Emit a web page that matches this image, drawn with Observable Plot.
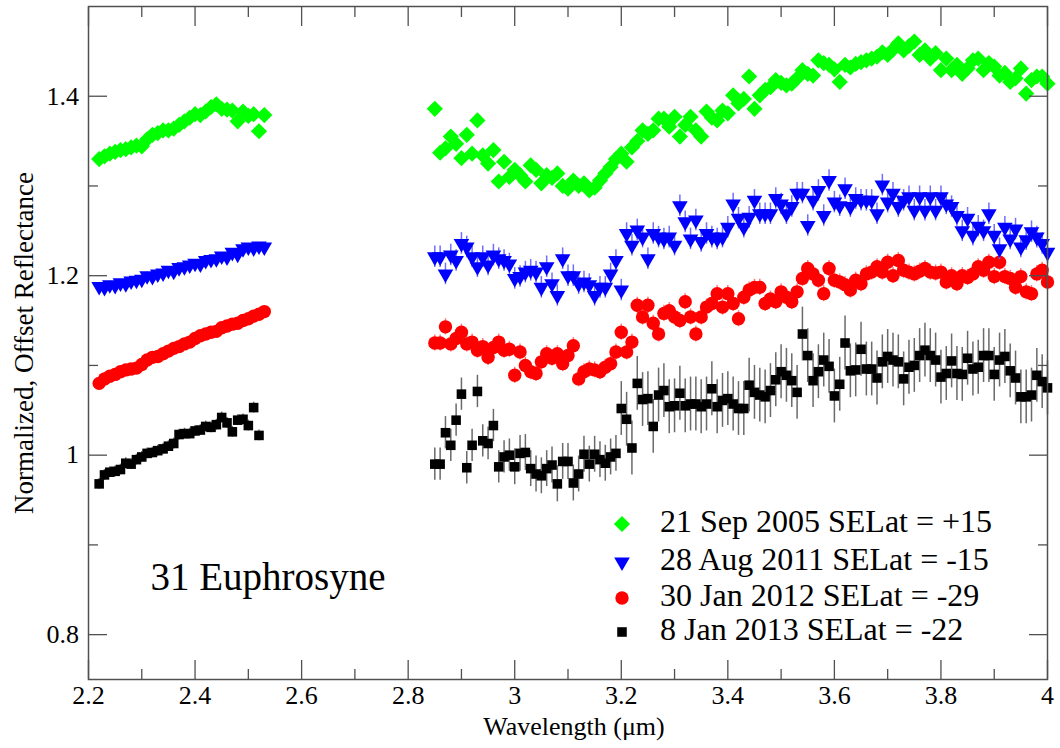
<!DOCTYPE html>
<html>
<head>
<meta charset="utf-8">
<script src="https://cdn.jsdelivr.net/npm/d3@7"></script>
<script src="https://cdn.jsdelivr.net/npm/@observablehq/plot@0.6"></script>
<style>
  body { margin: 0; background: #fff; }
  #wrap { position: relative; width: 1060px; height: 748px; }
  #legend { position: absolute; left: 0; top: 0; pointer-events: none; }
</style>
</head>
<body>
<div id="wrap"></div>
<script>
// ---------------- DATA ----------------
const seriesNames = ["21 Sep 2005 SELat = +15", "28 Aug 2011 SELat = -15", "30 Jan 2012 SELat = -29", "8 Jan 2013 SELat = -22"];

const waveLeft = [2.22,2.23,2.24,2.25,2.26,2.27,2.28,2.29,2.30,2.31,
                  2.32,2.33,2.34,2.35,2.36,2.37,2.38,2.39,2.40,2.41,
                  2.42,2.43,2.44,2.45,2.46,2.47,2.48,2.49,2.50,2.51,
                  2.52,2.53];

const waveRight = [2.85,2.86,2.87,2.88,2.89,2.90,2.91,2.92,2.93,2.94,
                   2.95,2.96,2.97,2.98,2.99,3.00,3.01,3.02,3.03,3.04,
                   3.05,3.06,3.07,3.08,3.09,3.10,3.11,3.12,3.13,3.14,
                   3.15,3.16,3.17,3.18,3.19,3.20,3.21,3.22,3.23,3.24,
                   3.25,3.26,3.27,3.28,3.29,3.30,3.31,3.32,3.33,3.34,
                   3.35,3.36,3.37,3.38,3.39,3.40,3.41,3.42,3.43,3.44,
                   3.45,3.46,3.47,3.48,3.49,3.50,3.51,3.52,3.53,3.54,
                   3.55,3.56,3.57,3.58,3.59,3.60,3.61,3.62,3.63,3.64,
                   3.65,3.66,3.67,3.68,3.69,3.70,3.71,3.72,3.73,3.74,
                   3.75,3.76,3.77,3.78,3.79,3.80,3.81,3.82,3.83,3.84,
                   3.85,3.86,3.87,3.88,3.89,3.90,3.91,3.92,3.93,3.94,
                   3.95,3.96,3.97,3.98,3.99,4.00];

// 21 Sep 2005 (green diamonds)
const sep2005Left = [1.330,1.333,1.336,1.338,1.340,1.341,1.343,1.345,1.344,1.352,
                     1.357,1.359,1.362,1.362,1.364,1.368,1.372,1.376,1.380,1.379,
                     1.383,1.388,1.391,1.386,1.385,1.384,1.372,1.383,1.378,1.380,
                     1.361,1.379];
const sep2005Right = [1.386,1.337,1.342,1.355,1.347,1.331,1.357,1.336,1.373,1.334,
                      1.325,1.340,1.305,1.327,1.310,1.318,1.312,1.305,1.323,1.318,
                      1.303,1.312,1.309,1.314,1.300,1.297,1.306,1.300,1.303,1.295,
                      1.298,1.306,1.314,1.321,1.330,1.336,1.327,1.343,1.350,1.362,
                      1.358,1.362,1.375,1.375,1.366,1.377,1.355,1.368,1.377,1.362,
                      1.355,1.383,1.376,1.373,1.384,1.381,1.401,1.392,1.397,1.422,
                      1.386,1.401,1.407,1.410,1.418,1.415,1.412,1.414,1.420,1.429,
                      1.425,1.423,1.440,1.437,1.435,1.430,1.416,1.435,1.432,1.436,
                      1.438,1.440,1.442,1.444,1.449,1.446,1.452,1.459,1.451,1.456,
                      1.461,1.446,1.451,1.442,1.448,1.429,1.442,1.429,1.435,1.425,
                      1.431,1.440,1.442,1.429,1.437,1.433,1.423,1.426,1.416,1.420,
                      1.431,1.403,1.418,1.422,1.422,1.414];

// 28 Aug 2011 (blue down triangles)
const aug2011Left = [1.188,1.187,1.190,1.189,1.192,1.191,1.194,1.195,1.196,1.200,
                     1.199,1.202,1.203,1.206,1.205,1.209,1.210,1.212,1.214,1.213,
                     1.217,1.218,1.219,1.222,1.221,1.226,1.224,1.230,1.232,1.231,
                     1.233,1.232];
const aug2011Right = [1.221,1.221,1.202,1.223,1.217,1.236,1.232,1.221,1.210,1.221,
                      1.212,1.223,1.219,1.217,1.213,1.197,1.199,1.204,1.206,1.204,
                      1.187,1.210,1.191,1.178,1.219,1.200,1.200,1.191,1.193,1.190,
                      1.178,1.187,1.187,1.202,1.217,1.184,1.247,1.234,1.251,1.243,
                      1.219,1.247,1.243,1.241,1.243,1.234,1.278,1.260,1.241,1.262,
                      1.238,1.247,1.243,1.241,1.243,1.254,1.280,1.264,1.254,1.265,
                      1.284,1.269,1.269,1.269,1.286,1.280,1.269,1.277,1.292,1.292,
                      1.256,1.284,1.295,1.267,1.306,1.282,1.278,1.297,1.277,1.286,
                      1.284,1.284,1.284,1.269,1.301,1.282,1.292,1.277,1.284,1.288,
                      1.273,1.288,1.273,1.288,1.273,1.288,1.280,1.277,1.267,1.250,
                      1.264,1.245,1.255,1.250,1.269,1.245,1.230,1.254,1.241,1.252,
                      1.232,1.240,1.249,1.243,1.236,1.226];

// 30 Jan 2012 (red circles)
const jan2012Left = [1.080,1.085,1.088,1.090,1.093,1.095,1.096,1.097,1.101,1.106,
                     1.109,1.110,1.113,1.116,1.119,1.121,1.124,1.126,1.130,1.133,
                     1.135,1.137,1.138,1.142,1.144,1.146,1.147,1.150,1.152,1.155,
                     1.157,1.160];
const jan2012Right = [1.125,1.125,1.143,1.124,1.130,1.137,1.124,1.126,1.117,1.121,
                      1.109,1.120,1.126,1.117,1.118,1.089,1.115,1.100,1.093,1.091,
                      1.104,1.113,1.108,1.113,1.102,1.111,1.122,1.085,1.093,1.096,
                      1.095,1.093,1.098,1.102,1.115,1.137,1.115,1.126,1.167,1.154,
                      1.167,1.147,1.135,1.158,1.161,1.154,1.150,1.171,1.154,1.135,
                      1.154,1.165,1.169,1.180,1.165,1.180,1.169,1.152,1.176,1.184,
                      1.187,1.187,1.169,1.174,1.171,1.182,1.176,1.171,1.182,1.197,
                      1.208,1.202,1.195,1.180,1.208,1.195,1.193,1.190,1.184,1.195,
                      1.191,1.202,1.204,1.210,1.204,1.215,1.200,1.217,1.206,1.204,
                      1.202,1.205,1.208,1.204,1.203,1.204,1.193,1.200,1.191,1.200,
                      1.198,1.202,1.210,1.206,1.215,1.199,1.215,1.199,1.197,1.187,
                      1.199,1.182,1.180,1.202,1.206,1.193];

// 8 Jan 2013 (black squares)
const jan2013Left = [0.968,0.978,0.981,0.982,0.984,0.991,0.990,0.995,0.998,1.002,
                     1.003,1.005,1.007,1.010,1.013,1.023,1.024,1.024,1.027,1.028,
                     1.032,1.031,1.034,1.042,1.036,1.026,1.039,1.040,1.033,1.053,
                     1.022];
const jan2013Right = [0.990,0.990,1.025,1.011,1.039,1.068,0.986,1.011,1.071,1.016,
                      1.013,1.033,0.987,0.998,1.000,0.987,1.002,1.003,0.985,0.979,
                      0.977,0.985,0.989,0.968,0.993,0.993,0.969,0.979,1.001,0.990,
                      1.001,0.995,0.991,0.998,1.002,1.052,1.040,1.008,1.080,1.062,
                      1.063,1.032,1.067,1.072,1.054,1.055,1.069,1.055,1.057,1.057,
                      1.054,1.057,1.074,1.054,1.061,1.063,1.057,1.052,1.052,1.078,
                      1.070,1.067,1.065,1.072,1.084,1.093,1.089,1.083,1.070,1.135,
                      1.111,1.083,1.093,1.106,1.099,1.066,1.079,1.125,1.094,1.095,
                      1.118,1.096,1.096,1.086,1.104,1.110,1.106,1.104,1.085,1.098,
                      1.100,1.111,1.117,1.111,1.106,1.087,1.091,1.105,1.091,1.090,
                      1.108,1.096,1.098,1.111,1.111,1.090,1.106,1.110,1.094,1.086,
                      1.065,1.065,1.067,1.089,1.082,1.075];

// uncertainties (half-length of error bars)
const errLeft  = [0.002, 0.004, 0.004, 0.006];
const errRight = [0.003, 0.012, 0.009, null];
const jan2013ErrRight = [0.018,0.018,0.018,0.018,0.018,0.018,0.018,0.018,0.018,0.018,
                         0.018,0.018,0.018,0.018,0.018,0.020,0.020,0.020,0.020,0.020,
                         0.020,0.020,0.020,0.020,0.020,0.020,0.020,0.020,0.020,0.020,
                         0.020,0.020,0.020,0.020,0.020,0.030,0.030,0.030,0.030,0.030,
                         0.030,0.030,0.030,0.030,0.030,0.030,0.030,0.030,0.030,0.030,
                         0.030,0.030,0.030,0.030,0.030,0.030,0.030,0.030,0.030,0.030,
                         0.030,0.030,0.030,0.030,0.030,0.030,0.030,0.030,0.030,0.030,
                         0.030,0.030,0.030,0.030,0.030,0.030,0.030,0.030,0.030,0.030,
                         0.030,0.030,0.030,0.030,0.030,0.030,0.030,0.030,0.030,0.030,
                         0.030,0.030,0.030,0.030,0.030,0.030,0.030,0.030,0.030,0.030,
                         0.030,0.030,0.030,0.030,0.030,0.030,0.030,0.030,0.030,0.030,
                         0.030,0.030,0.030,0.030,0.030,0.030];

const xMajor = [2.2,2.4,2.6,2.8,3.0,3.2,3.4,3.6,3.8,4.0];
const xTickLabels = ["2.2","2.4","2.6","2.8","3","3.2","3.4","3.6","3.8","4"];
const xMinor = [2.3,2.5,2.7,2.9,3.1,3.3,3.5,3.7,3.9];
const yMajor = [0.8,1.0,1.2,1.4];
const yTickLabels = ["0.8","1","1.2","1.4"];
const yMinor = [0.9,1.1,1.3];
const xDomain = [2.2, 4.0];
const yDomain = [0.75, 1.5];

// ---------------- STYLE ----------------
const colors = ["#00ff00", "#0000ff", "#ff0000", "#000000"];
const errColors = ["#7fff7f", "#6f6fff", "#ff7a7a", "#6a6a6a"];
const radii = [7.3, 5.8, 6.7, 5.4];
const axisColor = "#505050";
const font = "'Liberation Serif', 'Times New Roman', serif";

const triangleDown = {
  draw(context, size) {
    const y = -Math.sqrt(size / (Math.sqrt(3) * 3));
    context.moveTo(0, -2 * y);
    context.lineTo(-Math.sqrt(3) * y, y);
    context.lineTo(Math.sqrt(3) * y, y);
    context.closePath();
  }
};
const plotSymbols = ["diamond2", triangleDown, "circle", "square"];
const d3Symbols = [d3.symbolDiamond2, triangleDown, d3.symbolCircle, d3.symbolSquare];

// ---------------- BUILD ROWS ----------------
const leftSets = [sep2005Left, aug2011Left, jan2012Left, jan2013Left];
const rightSets = [sep2005Right, aug2011Right, jan2012Right, jan2013Right];
const table = [];
seriesNames.forEach((name, s) => {
  leftSets[s].forEach((v, i) => table.push({s, wave: waveLeft[i], value: v, err: errLeft[s]}));
  rightSets[s].forEach((v, i) => table.push({s, wave: waveRight[i], value: v,
    err: errRight[s] == null ? jan2013ErrRight[i] : errRight[s]}));
});

const dataMarks = [];
[3, 2, 1, 0].forEach(s => {
  const rows = table.filter(d => d.s === s);
  dataMarks.push(Plot.ruleX(rows, {x: "wave", y1: d => d.value - d.err, y2: d => d.value + d.err,
    stroke: errColors[s], strokeWidth: 1.5}));
  dataMarks.push(Plot.dot(rows, {x: "wave", y: "value", symbol: plotSymbols[s], r: radii[s],
    fill: colors[s], stroke: "none"}));
});

const chart = Plot.plot({
  width: 1060,
  height: 748,
  marginLeft: 88,
  marginRight: 13,
  marginTop: 6,
  marginBottom: 69,
  style: {fontFamily: font, fontSize: "26px", background: "#fff", color: "#000"},
  x: {domain: xDomain},
  y: {domain: yDomain},
  marks: [
    ...dataMarks,
    Plot.frame({stroke: axisColor, strokeWidth: 1.5}),
    // inward ticks on all four sides
    Plot.axisX(xMajor, {anchor: "bottom", tickSize: -19, fill: "none", stroke: axisColor, strokeWidth: 1.3, label: null}),
    Plot.axisX(xMinor, {anchor: "bottom", tickSize: -10, fill: "none", stroke: axisColor, strokeWidth: 1.3, label: null}),
    Plot.axisX(xMajor, {anchor: "top", tickSize: -19, fill: "none", stroke: axisColor, strokeWidth: 1.3, label: null}),
    Plot.axisX(xMinor, {anchor: "top", tickSize: -10, fill: "none", stroke: axisColor, strokeWidth: 1.3, label: null}),
    Plot.axisY(yMajor, {anchor: "left", tickSize: -19, fill: "none", stroke: axisColor, strokeWidth: 1.3, label: null}),
    Plot.axisY(yMinor, {anchor: "left", tickSize: -10, fill: "none", stroke: axisColor, strokeWidth: 1.3, label: null}),
    Plot.axisY(yMajor, {anchor: "right", tickSize: -19, fill: "none", stroke: axisColor, strokeWidth: 1.3, label: null}),
    Plot.axisY(yMinor, {anchor: "right", tickSize: -10, fill: "none", stroke: axisColor, strokeWidth: 1.3, label: null}),
    // tick labels
    Plot.axisX(xMajor, {anchor: "bottom", tickSize: 0, tickPadding: 6.5, fill: "#000", fontSize: 26,
      tickFormat: d => xTickLabels[xMajor.indexOf(d)], label: null}),
    Plot.axisY(yMajor, {anchor: "left", tickSize: 0, tickPadding: 9.5, fill: "#000", fontSize: 26,
      tickFormat: d => yTickLabels[yMajor.indexOf(d)], label: null}),
    // axis titles and annotation
    Plot.text(["Wavelength (μm)"], {text: d => d, frameAnchor: "bottom", textAnchor: "middle", lineAnchor: "middle",
      dx: 6, dy: 47, fontSize: 26, fill: "#000"}),
    Plot.text(["Normalized, Offset Reflectance"], {text: d => d, frameAnchor: "left", textAnchor: "middle", lineAnchor: "middle",
      rotate: -90, dx: -64, fontSize: 27, fill: "#000"}),
    Plot.text(["31 Euphrosyne"], {text: d => d, frameAnchor: "bottom-left", textAnchor: "start", lineAnchor: "middle",
      dx: 62, dy: -102, fontSize: 39, fill: "#000"})
  ]
});
document.getElementById("wrap").appendChild(chart);

// ---------------- LEGEND ----------------
const legendBaselines = [532, 570, 606, 640];
const legendSymbolX = 622, legendTextX = 660;
const leg = d3.select("#wrap").append("svg")
  .attr("id", "legend").attr("width", 1060).attr("height", 748);
seriesNames.forEach((name, s) => {
  leg.append("path")
    .attr("transform", `translate(${legendSymbolX},${legendBaselines[s] - 8})`)
    .attr("d", d3.symbol(d3Symbols[s], Math.PI * radii[s] * radii[s])())
    .attr("fill", colors[s]);
  leg.append("text")
    .attr("x", legendTextX).attr("y", legendBaselines[s])
    .attr("font-family", font).attr("font-size", 32).attr("fill", "#000")
    .text(name);
});
</script>
</body>
</html>
